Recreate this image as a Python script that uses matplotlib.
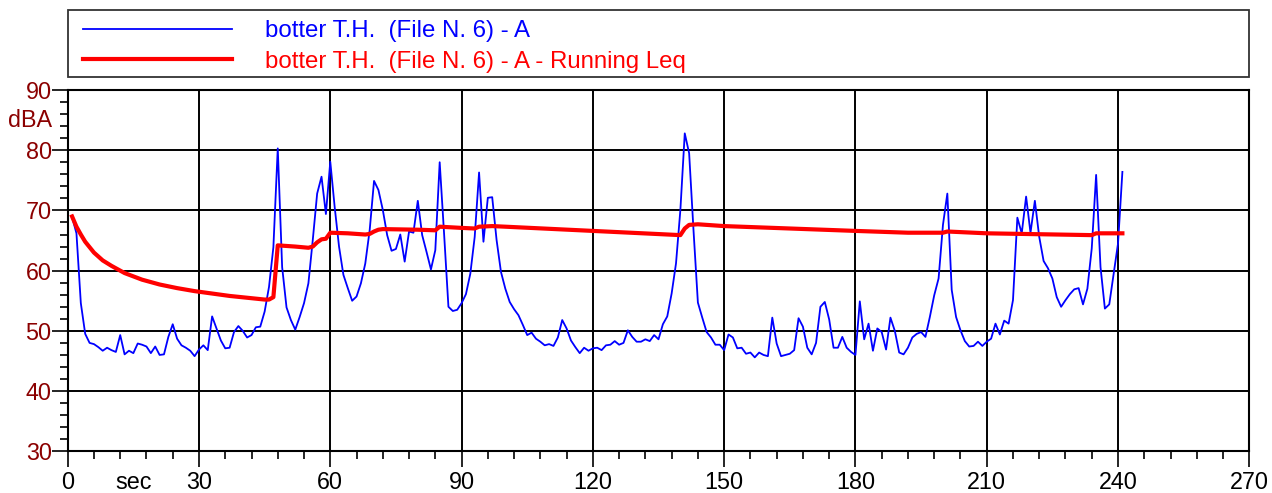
import numpy as np
import matplotlib
matplotlib.use("Agg")
import matplotlib.pyplot as plt
from matplotlib.patches import Rectangle
from matplotlib.ticker import MultipleLocator

plt.rcParams['font.family'] = ['Liberation Sans', 'DejaVu Sans']

# sound level time history, one value per second (dBA)
time_s = np.arange(1, 242)
level_a = [
    68.9, 66.2, 54.6, 49.5, 48.0, 47.8, 47.3, 46.7, 47.2, 46.8,
    46.5, 49.3, 46.1, 46.7, 46.3, 47.9, 47.7, 47.4, 46.3, 47.4,
    46.0, 46.1, 49.0, 51.1, 48.7, 47.6, 47.2, 46.7, 45.8, 46.9,
    47.6, 46.8, 52.4, 50.4, 48.4, 47.1, 47.2, 49.8, 50.8, 50.0,
    48.9, 49.3, 50.6, 50.7, 53.2, 57.3, 63.9, 80.3, 60.6, 53.9,
    51.8, 50.2, 52.3, 54.6, 57.9, 65.1, 72.8, 75.6, 69.4, 78.1,
    70.6, 64.0, 59.3, 57.1, 55.0, 55.7, 57.9, 61.2, 66.7, 74.9,
    73.4, 70.1, 65.9, 63.3, 63.6, 66.0, 61.5, 66.5, 66.3, 71.6,
    65.9, 63.1, 60.2, 63.4, 78.0, 66.2, 54.0, 53.3, 53.5, 54.6,
    56.1, 59.5, 65.6, 76.3, 64.8, 72.1, 72.2, 65.1, 59.8, 57.0,
    54.8, 53.6, 52.6, 51.0, 49.3, 49.7, 48.7, 48.2, 47.6, 47.8,
    47.5, 48.9, 51.8, 50.4, 48.4, 47.3, 46.3, 47.2, 46.7, 47.1,
    47.2, 46.8, 47.6, 47.7, 48.3, 47.7, 48.0, 50.1, 49.0, 48.2,
    48.2, 48.6, 48.3, 49.3, 48.6, 51.1, 52.4, 56.2, 61.2, 70.1,
    82.8, 79.5, 66.7, 54.7, 52.2, 49.8, 48.9, 47.7, 47.7, 46.8,
    49.4, 48.9, 47.1, 47.2, 46.2, 46.4, 45.6, 46.4, 46.0, 45.8,
    52.2, 47.9, 45.8, 46.0, 46.2, 46.8, 52.1, 50.7, 47.2, 46.1,
    48.0, 54.0, 54.8, 51.9, 47.2, 47.2, 49.0, 47.2, 46.5, 46.0,
    54.9, 48.6, 51.2, 46.7, 50.4, 49.8, 46.9, 52.2, 50.0, 46.4,
    46.1, 47.2, 48.9, 49.5, 49.8, 49.0, 52.3, 55.9, 58.7, 67.6,
    72.8, 56.8, 52.3, 50.1, 48.3, 47.4, 47.5, 48.2, 47.5, 48.2,
    48.7, 51.2, 49.4, 51.7, 51.2, 55.1, 68.8, 66.2, 72.3, 66.3,
    71.6, 65.6, 61.6, 60.4, 58.7, 55.6, 54.0, 55.1, 56.1, 56.9,
    57.1, 54.4, 57.0, 63.7, 75.9, 60.6, 53.7, 54.4, 59.5, 64.5,
    76.4,
]

# running Leq
leq_t = [1, 2, 3, 4, 6, 8, 10, 13, 17, 21, 25, 29, 33, 37, 41, 45, 46, 47,
         48, 52, 55, 56, 57, 58, 59, 60, 64, 68, 69, 70, 71, 72, 80, 84, 85,
         90, 93, 94, 97, 100, 120, 140, 141, 142, 144, 150, 180, 192, 200,
         201, 210, 234, 235, 241]
leq_val = [69.0, 67.3, 66.0, 64.8, 63.0, 61.7, 60.8, 59.6, 58.5, 57.7, 57.1,
           56.6, 56.2, 55.8, 55.5, 55.2, 55.2, 55.6, 64.2, 64.0, 63.8, 64.0,
           64.7, 65.2, 65.3, 66.3, 66.2, 66.0, 66.1, 66.5, 66.8, 66.9, 66.8,
           66.7, 67.3, 67.1, 67.0, 67.3, 67.4, 67.3, 66.6, 65.9, 67.0, 67.6,
           67.7, 67.4, 66.6, 66.3, 66.3, 66.5, 66.2, 65.9, 66.2, 66.2]

label_a = "botter T.H.  (File N. 6) - A"
label_leq = "botter T.H.  (File N. 6) - A - Running Leq"

W, H = 1272, 493
fig = plt.figure(figsize=(W / 100, H / 100), dpi=100)
x0, x1, y0, y1 = 67.7, 1249.3, 90.0, 451.3
ax = fig.add_axes([x0 / W, 1 - y1 / H, (x1 - x0) / W, (y1 - y0) / H])

l1, = ax.plot(time_s, level_a, color='#0000ff', lw=1.3)
l2, = ax.plot(leq_t, leq_val, color='#ff0000', lw=3.0)

fs = 16.8
ax.set_xlim(0, 270)
ax.set_ylim(30, 90)
ax.xaxis.set_major_locator(MultipleLocator(30))
ax.xaxis.set_minor_locator(MultipleLocator(6))
ax.yaxis.set_major_locator(MultipleLocator(10))
ax.yaxis.set_minor_locator(MultipleLocator(2))
ax.grid(True, which='major', color='black', lw=1.4)
for s in ax.spines.values():
    s.set_linewidth(1.5)
ax.tick_params(axis='both', which='major', length=11.5, width=1.2, labelsize=fs)
ax.tick_params(axis='both', which='minor', length=6, width=1.2)
ax.tick_params(axis='y', which='major', pad=0, labelcolor='#8b0000')
ax.tick_params(axis='x', which='major', pad=3)

ax.annotate("dBA", xy=(0, 85), xycoords=('axes fraction', 'data'),
            xytext=(-11.5, 0), textcoords='offset points',
            ha='right', va='center', fontsize=fs, color='#8b0000')
ax.annotate("sec", xy=(15, 0), xycoords=('data', 'axes fraction'),
            xytext=(0, -14.5), textcoords='offset points',
            ha='center', va='top', fontsize=fs, color='black')

# legend box above the plot
fig.patches.append(Rectangle((x0 / W, 1 - 76.7 / H), (x1 - x0) / W, (76.7 - 10.3) / H,
                             transform=fig.transFigure, fill=False,
                             ec='#333333', lw=1.3))
lfs = 17.3
lfs_px = lfs * 100 / 72
fig.legend([l1, l2], [label_a, label_leq], loc='upper left',
           bbox_to_anchor=(83 / W, 1 - 20 / H), frameon=False,
           fontsize=lfs, borderpad=0, borderaxespad=0,
           handlelength=149 / lfs_px, handletextpad=33 / lfs_px,
           labelspacing=0.36, labelcolor='linecolor')

fig.savefig("out.png", dpi=100)
